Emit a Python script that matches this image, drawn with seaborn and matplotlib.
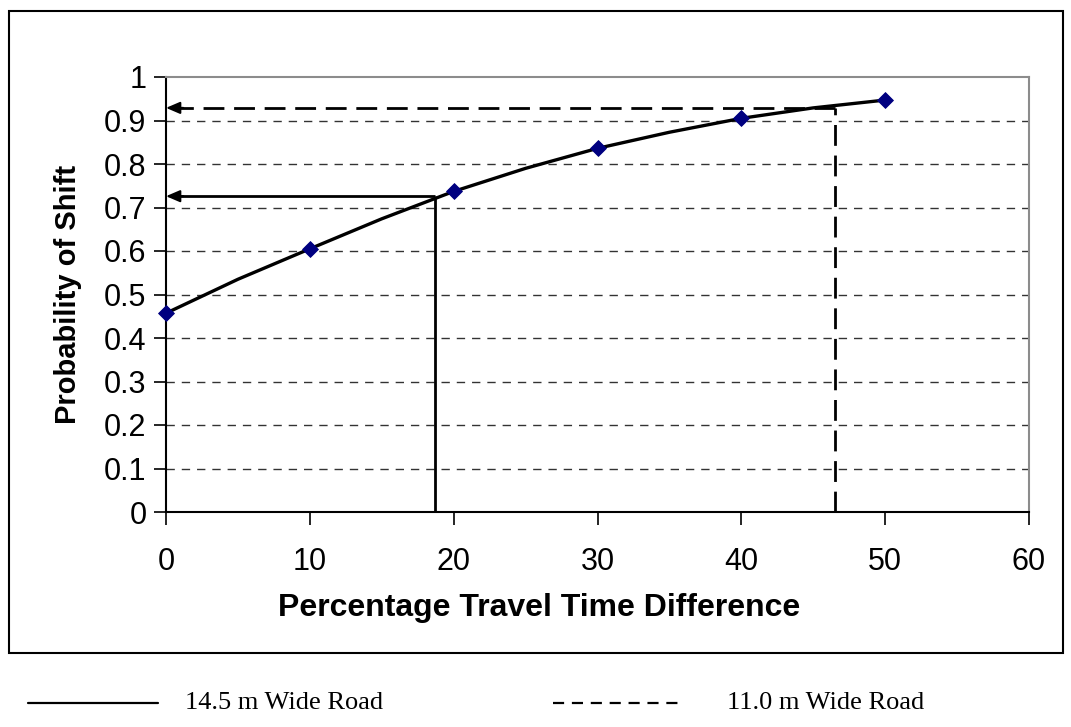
import matplotlib
matplotlib.use("Agg")
import matplotlib.pyplot as plt
import seaborn as sns
import pandas as pd
from matplotlib.patches import Rectangle
from matplotlib.lines import Line2D

# observed points (diamonds)
pct_diff = [0, 10, 20, 30, 40, 50]
prob_shift = [0.457, 0.605, 0.737, 0.836, 0.905, 0.947]

# fitted curve
curve_x = [0, 5, 10, 15, 20, 25, 30, 35, 40, 45, 50]
curve_y = [0.457, 0.535, 0.605, 0.674, 0.737, 0.79, 0.836, 0.873, 0.905, 0.929, 0.947]

# read-off lines for the two road widths
road_labels = ["14.5 m Wide Road", "11.0 m Wide Road"]
road_x = [18.7, 46.5]
road_p = [0.726, 0.929]

sns.set_theme(style="white")
plt.rcParams["font.family"] = ["Liberation Sans", "DejaVu Sans"]
plt.rcParams["text.color"] = "black"
plt.rcParams["axes.labelcolor"] = "black"

fig = plt.figure(figsize=(10.71, 7.27), dpi=100)
ax = fig.add_axes([166 / 1071, 1 - 512 / 727, (1029 - 166) / 1071, (512 - 77) / 727])

# outer chart frame
fig.patches.append(Rectangle((9 / 1071, 1 - 653 / 727), 1054 / 1071, 642 / 727,
                             transform=fig.transFigure, fill=False,
                             edgecolor="black", linewidth=1.5))

df_curve = pd.DataFrame({"x": curve_x, "y": curve_y})
df_pts = pd.DataFrame({"x": pct_diff, "y": prob_shift})

sns.lineplot(data=df_curve, x="x", y="y", ax=ax, color="black", linewidth=2.4,
             zorder=4)
sns.scatterplot(data=df_pts, x="x", y="y", ax=ax, marker="D", s=65,
                color="#000080", edgecolor="#000080", zorder=5, clip_on=False)

styles = [(0, ()), (0, (7.5, 3.5))]
for xv, pv, ls in zip(road_x, road_p, styles):
    ax.plot([xv, xv], [0, pv], color="black", linewidth=2, linestyle=ls, zorder=3)
    ax.plot([xv, 0.6], [pv, pv], color="black", linewidth=2, linestyle=ls, zorder=3)
    ax.annotate("", xy=(0, pv), xytext=(1.2, pv),
                arrowprops=dict(arrowstyle="-|>,head_length=0.7,head_width=0.3",
                                color="black", lw=1.5, shrinkA=0, shrinkB=0),
                zorder=3)

ax.set_xlim(0, 60)
ax.set_ylim(0, 1)
ax.set_xticks(range(0, 61, 10))
ax.set_yticks([i / 10 for i in range(11)])
ax.set_yticklabels(["0"] + [f"0.{i}" for i in range(1, 10)] + ["1"])

for yv in [i / 10 for i in range(1, 10)]:
    ax.axhline(yv, color="#333333", linewidth=1, linestyle=(0, (6, 5)), zorder=1)

ax.tick_params(axis="both", direction="out", length=9, width=1.2, labelsize=22,
               colors="black", bottom=True, left=True)
ax.tick_params(axis="x", pad=16)
ax.tick_params(axis="y", pad=5)

ax.spines["left"].set_color("black")
ax.spines["bottom"].set_color("black")
ax.spines["top"].set_color("#8c8c8c")
ax.spines["right"].set_color("#8c8c8c")
for s in ax.spines.values():
    s.set_linewidth(1.5)

ax.set_xlabel("Percentage Travel Time Difference", fontsize=23, fontweight="bold",
              color="black")
ax.xaxis.set_label_coords((539 - 166) / 863, -(608 - 512) / 435)
ax.xaxis.label.set_va("center")
ax.set_ylabel("Probability of Shift", fontsize=21, fontweight="bold", color="black")
ax.yaxis.set_label_coords(-(166 - 68) / 863, 0.5)
ax.yaxis.label.set_va("center")

# legend below the frame
leg_y = 1 - 703 / 727
fig.add_artist(Line2D([28 / 1071, 158 / 1071], [leg_y] * 2,
                      transform=fig.transFigure, color="black", linewidth=1.6))
fig.add_artist(Line2D([553 / 1071, 680 / 1071], [leg_y] * 2,
                      transform=fig.transFigure, color="black", linewidth=1.6,
                      linestyle=(0, (5, 3.5))))
fig.text(185 / 1071, leg_y, road_labels[0], fontsize=19, color="black",
         family=["Liberation Serif", "DejaVu Serif"], va="center")
fig.text(727 / 1071, leg_y, road_labels[1], fontsize=19, color="black",
         family=["Liberation Serif", "DejaVu Serif"], va="center")

fig.savefig("out.png", dpi=100)
